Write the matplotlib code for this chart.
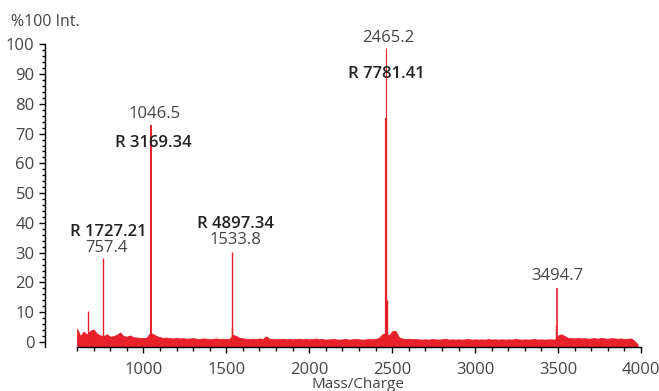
import matplotlib
matplotlib.use("Agg")
import matplotlib.pyplot as plt
from matplotlib.ticker import MultipleLocator, FixedLocator

plt.rcParams['font.family'] = ['Open Sans', 'DejaVu Sans']

# ---- data -------------------------------------------------------------
# baseline noise envelope (m/z grid 600..3980, step 20) in % intensity
noise_mz = list(range(600, 4000, 20))
noise_int = [
    4.5, 2.0, 3.5, 2.5, 3.8, 4.2, 2.8, 2.2, 2.0, 2.6,   # 600-780
    1.8, 2.0, 2.4, 3.2, 2.0, 1.8, 2.2, 1.6, 1.5, 1.4,   # 800-980
    1.3, 1.5, 3.0, 2.6, 2.0, 1.6, 1.4, 1.5, 1.3, 1.2,   # 1000-1180
    1.4, 1.2, 1.3, 1.1, 1.2, 1.3, 1.1, 1.0, 1.2, 1.1,   # 1200-1380
    1.0, 1.1, 1.2, 1.0, 1.1, 1.0, 1.1, 2.4, 2.0, 1.4,   # 1400-1580
    1.2, 1.1, 1.0, 1.1, 1.0, 1.2, 1.0, 1.9, 1.1, 1.0,   # 1600-1780
    0.9, 1.0, 1.1, 0.9, 1.0, 0.9, 1.0, 1.1, 0.9, 1.0,   # 1800-1980
    0.9, 1.0, 1.2, 0.9, 1.0, 0.8, 0.9, 1.0, 0.9, 0.8,   # 2000-2180
    0.9, 1.0, 0.8, 0.9, 1.0, 0.9, 0.8, 0.9, 1.0, 0.9,   # 2200-2380
    1.0, 1.4, 2.6, 3.0, 2.2, 3.6, 3.8, 1.6, 1.2, 1.0,   # 2400-2580
    1.1, 0.9, 1.0, 0.9, 0.8, 0.9, 0.8, 1.0, 0.9, 0.8,   # 2600-2780
    0.9, 1.1, 0.8, 0.9, 0.8, 0.9, 0.8, 0.9, 1.0, 0.8,   # 2800-2980
    0.9, 0.8, 0.9, 0.8, 1.0, 0.8, 0.9, 0.8, 0.9, 0.8,   # 3000-3180
    0.9, 0.8, 1.0, 0.9, 0.8, 0.9, 0.8, 0.9, 1.0, 0.8,   # 3200-3380
    0.9, 0.8, 0.9, 0.9, 0.8, 2.2, 2.6, 2.0, 1.4, 1.3,   # 3400-3580
    1.2, 1.4, 1.2, 1.3, 1.1, 1.2, 1.3, 1.1, 1.4, 1.2,   # 3600-3780
    1.1, 1.3, 1.2, 1.1, 1.2, 1.0, 1.1, 1.2, 0.4, -0.8,  # 3800-3980
]

# peaks (m/z, % intensity)
peak_mz = [664.0, 757.4, 1046.5, 1048.5, 1533.8, 1536.5, 2463.6, 2465.2, 2468.5, 3490.5, 3494.7]
peak_int = [10.4, 28.2, 72.9, 3.5, 30.2, 4.8, 75.2, 98.8, 14.0, 5.7, 18.1]
peak_lw = [1.0, 1.0, 1.4, 1.0, 1.0, 1.0, 1.6, 0.8, 1.0, 1.0, 1.2]

# labels
label_mz = [757.4, 1046.5, 1533.8, 2465.2, 3494.7]
label_int = [28.2, 72.9, 30.2, 98.8, 18.1]
label_text = ['757.4', '1046.5', '1533.8', '2465.2', '3494.7']
res_text = ['R 1727.21', 'R 3169.34', 'R 4897.34', 'R 7781.41', '']

# ---- figure -----------------------------------------------------------
W, H = 659, 391
fig = plt.figure(figsize=(W / 100, H / 100), dpi=100)
ax = fig.add_axes([77 / W, 1 - 347 / H, (641 - 77) / W, (347 - 44.3) / H])

red = '#E8202A'
ymin = -1.68
ax.set_xlim(600, 4000)
ax.set_ylim(ymin, 100)

ax.fill_between(noise_mz, ymin, noise_int, color=red, lw=0.6, edgecolor=red, zorder=2)
ax.vlines(peak_mz, ymin, peak_int, colors=red, linewidths=peak_lw, zorder=3)

num_off = [(3, 10.5), (4, 11), (3.6, 12.5), (2, 10), (0, 12.5)]
res_off = [(5.5, 26), (2, -18), (3.6, 28), (0, -26), (0, 0)]
for mz, it, t, r, no, ro in zip(label_mz, label_int, label_text, res_text, num_off, res_off):
    ax.annotate(t, (mz, it), xytext=no, textcoords='offset pixels',
                ha='center', va='center', fontsize=12, color='#444444')
    if r:
        ax.annotate(r, (mz, it), xytext=ro, textcoords='offset pixels',
                    ha='center', va='center', fontsize=12, color='#222222',
                    fontweight='semibold')

# spines
for s in ['top', 'right']:
    ax.spines[s].set_visible(False)
ax.spines['left'].set_position(('outward', 32 * 0.72))
ax.spines['left'].set_linewidth(1.0)
ax.spines['bottom'].set_linewidth(1.0)

ax.xaxis.set_major_locator(FixedLocator([1000, 1500, 2000, 2500, 3000, 3500, 4000]))
ax.xaxis.set_minor_locator(MultipleLocator(100))
ax.yaxis.set_major_locator(MultipleLocator(10))
ax.yaxis.set_minor_locator(MultipleLocator(2))
ax.tick_params(axis='x', which='major', length=4, width=1, pad=7,
               labelsize=12, labelcolor='#444444')
ax.tick_params(axis='x', which='minor', length=3, width=1)
ax.tick_params(axis='y', which='major', length=4, width=1, pad=3.5,
               labelsize=12, labelcolor='#444444')
ax.tick_params(axis='y', which='minor', length=2.5, width=1)

fig.text(11 / W, 1 - 22 / H, '%100 Int.', ha='left', va='center',
         fontsize=11.5, color='#444444')
fig.text(358 / W, 1 - 384 / H, 'Mass/Charge', ha='center', va='center',
         fontsize=11, color='#444444')

fig.savefig('out.png', dpi=100)
